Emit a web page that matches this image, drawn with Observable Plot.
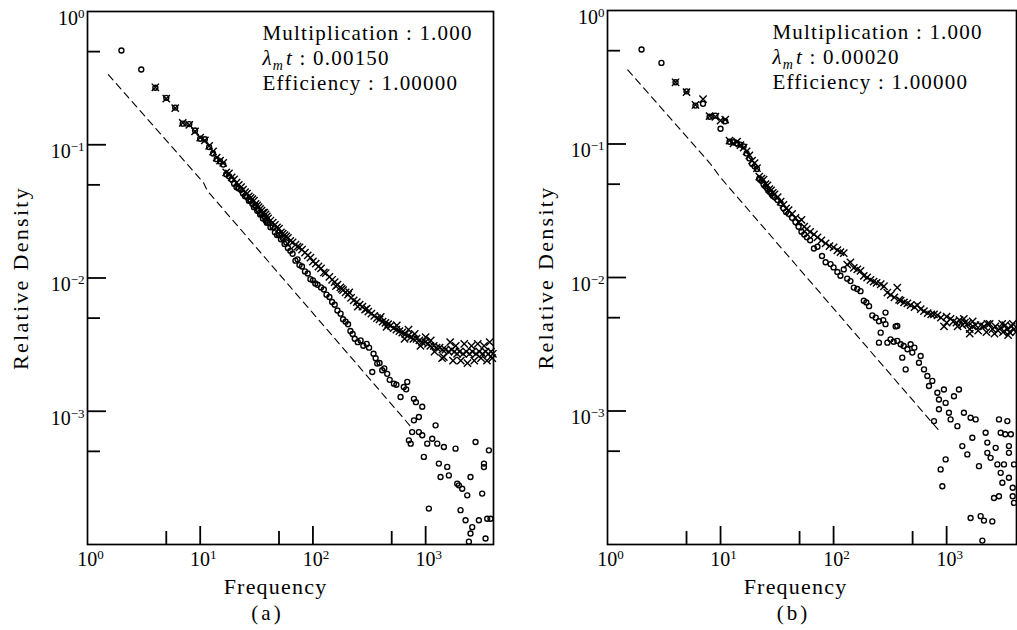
<!DOCTYPE html>
<html><head><meta charset="utf-8">
<script src="https://cdn.jsdelivr.net/npm/d3@7"></script>
<script src="https://cdn.jsdelivr.net/npm/@observablehq/plot@0.6"></script>
<style>
body{margin:0;background:#fff;}
#wrap{display:flex;width:1017px;height:630px;background:#fff;}
svg{display:block}
svg text{font-family:"Liberation Serif","Times New Roman",serif !important;}
</style></head><body><div id="wrap"></div>
<script>
// ---------- tick values ----------
const xLabelTicks = [1, 10, 100, 1000];
const xMajorTicks = [10, 100, 1000];
const xMinorTicks = [5, 50, 500];
const yLabelTicks = [1, 0.1, 0.01, 0.001];
const yMajorTicks = [0.1, 0.01, 0.001];
const yMinorTicks = [0.5, 0.05, 0.005, 0.0005];

// ---------- panel (a) ----------
const aTitle = "(a)";
const aAnnotation = ["Multiplication : 1.000", "λmt : 0.00150", "Efficiency : 1.00000"];
const aCircleFreq = [
  2,3,4,5,6,7,8,9,10,11,
  12,13,14,15,16,17,18,19,20,21,
  22,23,24,25,26,27,28,29,30,31,
  32,33,34,35,36,37,38,39,40,42,
  44,46,48,50,52,54,56,58,60,63,
  66,70,73,76,80,85,90,95,100,105,
  110,118,125,132,140,148,156,165,176,185,
  195,205,215,225,235,250,265,280,300,315,
  336,345,360,372,390,412,430,456,480,523,
  550,599,640,672,687,710,737,759,787,787,
  820,871,871,933,933,964,1033,1068,1144,1225,
  1268,1310,1356,1452,1554,1607,1842,1906,1973,2040,
  2110,2260,2340,2420,2500,2500,2590,2772,2965,3175,
  3290,3290,3400,3517,3640,3765];
const aCircleDensity = [
  .51,.367,.268,.225,.19,.144,.143,.128,.111,.110,
  .096,.086,.078,.075,.071,.060,.058,.055,.051,.048,
  .047,.046,.043,.041,.041,.038,.038,.036,.034,.035,
  .032,.032,.030,.030,.028,.029,.027,.026,.026,.024,
  .024,.022,.021,.021,.0195,.020,.018,.0185,.0168,.016,
  .0152,.0135,.0138,.0125,.0122,.0112,.0108,.0098,.0096,.0091,
  .0089,.0085,.0082,.0075,.0072,.0066,.0063,.0057,.0054,.0049,
  .0047,.0045,.0040,.0038,.0035,.0033,.0034,.0031,.0032,.0030,
  .00197,.0027,.0025,.00228,.0023,.00203,.0021,.00191,.00172,.00161,
  .00158,.00128,.00152,.00146,.00166,.000605,.000571,.000698,.00124,.000855,
  .00117,.000905,.000698,.00108,.00066,.000454,.000571,.000186,.000622,.000784,
  .000571,.000405,.000321,.000539,.000382,.00033,.000524,.000286,.000278,.000181,
  .000262,.000152,.000234,.000105,.000321,.000121,.000135,.000588,.000152,.000241,
  .000405,.000381,.000111,.000156,.000509,.000156];
const aCrossFreq = [
  4,5,6,7,8,9,10,11,12,13,
  14,15,16,17,18,19,20,21,22,23,
  24,25,26,27,28,29,30,31,32,33,
  34,35,36,37,38,39,40,42,44,46,
  48,50,52,54,56,58,60,63,66,70,
  73,76,80,85,90,95,100,106,112,118,
  125,130,140,148,156,160,165,175,180,185,
  195,205,210,218,230,245,250,260,275,290,
  300,310,330,350,370,390,400,415,440,450,
  465,490,520,550,555,585,620,650,660,700,
  705,740,780,800,830,880,900,930,990,1000,
  1050,1100,1110,1180,1200,1250,1330,1400,1410,1450,
  1500,1600,1650,1700,1750,1800,1850,1900,2000,2050,
  2150,2200,2300,2350,2450,2550,2600,2700,2800,2900,
  3000,3100,3200,3300,3400,3500,3600,3700,3800,3900,
  3950];
const aCrossDensity = [
  .27,.222,.188,.146,.141,.126,.113,.108,.098,.089,
  .080,.076,.073,.062,.061,.057,.055,.052,.050,.048,
  .046,.044,.043,.041,.040,.039,.038,.036,.035,.034,
  .033,.032,.031,.031,.030,.029,.028,.027,.026,.025,
  .024,.0235,.022,.0215,.021,.0205,.020,.019,.0185,.0178,
  .0172,.017,.0163,.0155,.0148,.0142,.0133,.0128,.0122,.0118,
  .0110,.0109,.0102,.0097,.0093,.0087,.0089,.0085,.0083,.0081,
  .0078,.0075,.0078,.0071,.0068,.0066,.0061,.0063,.0061,.0058,
  .0059,.0056,.0054,.0052,.0050,.0049,.0051,.0047,.0046,.0043,
  .0045,.0044,.0042,.0041,.0044,.0040,.0039,.0035,.0038,.0037,
  .0041,.0036,.0035,.0038,.0035,.0034,.0031,.0033,.0033,.0036,
  .0032,.0031,.0034,.0031,.0028,.0030,.0030,.0025,.0029,.00255,
  .0029,.0028,.0033,.0029,.0024,.0028,.0031,.0027,.0028,.0024,
  .0027,.0032,.0028,.0023,.0027,.0031,.0028,.0024,.0027,.0032,
  .0028,.0025,.0027,.0031,.0028,.0024,.0027,.0033,.0028,.0025,
  .0027];
const aGuideFreq = [1.53, 10.7, 11.6, 735];
const aGuideDensity = [0.336, 0.0518, 0.045, 0.00077];

// ---------- panel (b) ----------
const bTitle = "(b)";
const bAnnotation = ["Multiplication : 1.000", "λmt : 0.00020", "Efficiency : 1.00000"];
const bCircleFreq = [
  2,3,4,5,6,7,8,9,10,11,
  12,13,14,15,16,17,18,19,20,21,
  22,23,24,25,26,27,28,29,30,32,
  34,36,38,40,43,46,49,52,55,58,
  62,67,72,79,85,94,100,108,115,123,
  132,141,151,162,173,185,195,206,220,236,
  252,252,261,275,288,288,299,319,340,354,
  366,366,392,405,417,434,450,480,497,518,
  569,589,631,675,698,747,773,828,855,855,
  885,916,946,980,980,1048,1084,1161,1245,1285,
  1376,1422,1524,1629,1629,1688,1806,1932,2000,2070,
  2138,2213,2290,2290,2449,2535,2623,2714,2811,2904,
  2904,3006,3006,3112,3215,3300,3444,3557,3557,3557,
  3700,3840,3840,3945,3945];
const bCircleDensity = [
  .51,.405,.29,.248,.194,.20,.16,.163,.13,.148,
  .104,.103,.101,.099,.096,.085,.078,.071,.068,.065,
  .055,.053,.050,.048,.046,.044,.043,.041,.040,.038,
  .036,.033,.031,.030,.028,.026,.024,.022,.021,.020,
  .019,.0165,.017,.0145,.013,.0126,.0119,.011,.0103,.0115,
  .0098,.0094,.0084,.0082,.0079,.0067,.0065,.0061,.0052,.0050,
  .0047,.00325,.00386,.0048,.00546,.00447,.00325,.00344,.0033,.0043,
  .00335,.00434,.00316,.00251,.00307,.00205,.0029,.00316,.00274,.00298,
  .0023,.00258,.00205,.00183,.00154,.00168,.00084,.00137,.00122,.00103,
  .000365,.000273,.00145,.00115,.000434,.00097,.000865,.00129,.00077,.00145,
  .000546,.00097,.000473,.00089,.000158,.00063,.000865,.000386,.000163,.000107,
  .000151,.000687,.00058,.000486,.000446,.000149,.000223,.00053,.000398,.000865,
  .00023,.000687,.000344,.00029,.000398,.00067,.00084,.000546,.000486,.000316,
  .00067,.00023,.000266,.000398,.000205];
const bCrossFreq = [
  4,5,6,7,8,9,10,11,12,13,
  14,15,16,17,18,19,20,21,22,23,
  24,25,26,27,28,29,30,32,34,36,
  38,40,43,46,49,52,55,58,62,67,
  72,78,85,92,100,108,115,123,132,141,
  151,162,173,185,198,212,226,240,261,279,
  299,320,345,366,380,392,420,450,480,520,
  551,590,630,680,730,773,830,890,948,1000,
  1000,1084,1150,1220,1250,1300,1380,1420,1450,1524,
  1600,1600,1700,1700,1800,1900,2000,2138,2250,2300,
  2400,2550,2650,2700,2850,3006,3100,3150,3300,3450,
  3500,3600,3750,3850,3945,4100];
const bCrossDensity = [
  .29,.245,.196,.217,.162,.16,.15,.152,.106,.101,
  .104,.098,.094,.088,.082,.075,.072,.066,.057,.055,
  .054,.050,.049,.046,.045,.043,.042,.040,.037,.035,
  .033,.032,.030,.028,.026,.027,.024,.023,.022,.021,
  .020,.019,.018,.0172,.0168,.016,.0155,.0152,.0125,.013,
  .0118,.0115,.0112,.0103,.0100,.0096,.0093,.0091,.0089,.0086,
  .0077,.0074,.0071,.0084,.0068,.0067,.0065,.0064,.0062,.0060,
  .0062,.0058,.0056,.0054,.0053,.0053,.0052,.0050,.0043,.0051,
  .0046,.0049,.0047,.0046,.0043,.0048,.0044,.0049,.0046,.0045,
  .0038,.0041,.0043,.0047,.0044,.0040,.0044,.0043,.0039,.0045,
  .0045,.0041,.0038,.0043,.0040,.0042,.0045,.0039,.0044,.0041,
  .0037,.0039,.0043,.0045,.0041,.0039];
const bGuideFreq = [1.51, 8.16, 10, 885];
const bGuideDensity = [0.359, 0.0708, 0.056, 0.00069];

const xLabel = "Frequency";
const yLabel = "Relative Density";

// ---------- drawing ----------
const SERIF = "Liberation Serif, Times New Roman, serif";
const zip = (xs, ys) => xs.map((x, i) => ({x, y: ys[i]}));
const expFormat = d => "10^" + Math.round(Math.log10(d));

function panel(cfg) {
  const frameW = cfg.width - cfg.ml - cfg.mr;
  const frameH = cfg.height - cfg.mt - cfg.mb;
  const circles = zip(cfg.circleFreq, cfg.circleDensity);
  const crosses = zip(cfg.crossFreq, cfg.crossDensity);
  const guide = zip(cfg.guideFreq, cfg.guideDensity);
  const svg = Plot.plot({
    width: cfg.width, height: cfg.height,
    marginLeft: cfg.ml, marginRight: cfg.mr, marginTop: cfg.mt, marginBottom: cfg.mb,
    x: {type: "log", domain: cfg.xDomain},
    y: {type: "log", domain: [1e-4, 1]},
    style: {fontFamily: SERIF, background: "white", color: "black", overflow: "visible"},
    marks: [
      Plot.frame({stroke: "black", strokeWidth: 1.7}),
      Plot.tickX(xMajorTicks, {x: d => d, insetTop: frameH - 18, stroke: "black", strokeWidth: 1.8}),
      Plot.tickX(xMinorTicks, {x: d => d, insetTop: frameH - 13, stroke: "black", strokeWidth: 1.8}),
      Plot.tickY(yMajorTicks, {y: d => d, insetRight: frameW - 19, stroke: "black", strokeWidth: 1.8}),
      Plot.tickY(yMinorTicks, {y: d => d, insetRight: frameW - 13, stroke: "black", strokeWidth: 1.8}),
      Plot.axisX(xLabelTicks, {tickSize: 0, tickPadding: 7, tickFormat: expFormat, fontSize: 20, fontFamily: SERIF, label: null, dx: 3}),
      Plot.axisY(yLabelTicks, {tickSize: 0, tickPadding: 3, tickFormat: expFormat, fontSize: 20, fontFamily: SERIF, label: null, dy: 7}),
      Plot.line(guide, {x: "x", y: "y", stroke: "black", strokeWidth: 1.1, strokeDasharray: "7,5"}),
      Plot.dot(circles, {x: "x", y: "y", r: 2.5, stroke: "black", strokeWidth: 1.35, fill: "none"}),
      Plot.dot(crosses, {x: "x", y: "y", symbol: "times", r: 3.4, stroke: "black", strokeWidth: 1.4}),
      Plot.text([xLabel], {text: d => d, frameAnchor: "bottom", dx: cfg.freqDx, dy: 49, fontSize: 22, fontFamily: SERIF, fill: "black"}),
      Plot.text([cfg.title], {text: d => d, frameAnchor: "bottom", dx: cfg.titleDx, dy: 75, fontSize: 21, fontFamily: SERIF, fill: "black"}),
      Plot.text([yLabel], {text: d => d, frameAnchor: "left", textAnchor: "middle", rotate: -90, dx: cfg.yLabelDx, lineAnchor: "middle", fontSize: 22, fontFamily: SERIF, fill: "black"}),
      Plot.text([cfg.annotation.join("\n")], {text: d => d, frameAnchor: "top-left", textAnchor: "start", lineAnchor: "top", lineHeight: 1.19, dx: cfg.annDx, dy: 11, fontSize: 21, fontFamily: SERIF, fill: "black"})
    ]
  });
  svg.setAttribute("font-family", SERIF);
  // superscripts on power-of-ten tick labels
  svg.querySelectorAll("text").forEach(t => {
    const m = /^10\^(-?\d+)$/.exec(t.textContent);
    if (m) t.innerHTML = `10<tspan dy="-7" font-size="13">${m[1].replace("-", "−")}</tspan>`;
    if (t.textContent === xLabel) t.style.letterSpacing = "1.2px";
    if (t.textContent === yLabel) t.style.letterSpacing = "2.3px";
    if (t.textContent === cfg.title) t.style.letterSpacing = "3px";
  });
  svg.querySelectorAll("tspan").forEach(s => {
    if (s.textContent.startsWith("λm")) {
      const rest = s.textContent.slice(3);
      s.innerHTML = `<tspan font-style="italic">λ</tspan><tspan font-style="italic" font-size="14" dy="5">m</tspan><tspan font-style="italic" dy="-5" dx="2">t</tspan>${rest}`;
    }
  });
  svg.querySelectorAll("text").forEach(t => {
    if (t.textContent.startsWith("Multiplication")) t.style.letterSpacing = "1.2px";
  });
  return svg;
}

const wrap = document.getElementById("wrap");
wrap.append(panel({
  width: 508, height: 630, ml: 87, mr: 15, mt: 11, mb: 86, xDomain: [1, 4000],
  circleFreq: aCircleFreq, circleDensity: aCircleDensity,
  crossFreq: aCrossFreq, crossDensity: aCrossDensity,
  guideFreq: aGuideFreq, guideDensity: aGuideDensity,
  title: aTitle, annotation: aAnnotation,
  freqDx: -15, titleDx: -23, yLabelDx: -67, annDx: 175
}));
wrap.append(panel({
  width: 509, height: 630, ml: 99, mr: 1, mt: 10, mb: 86, xDomain: [1, 4150],
  circleFreq: bCircleFreq, circleDensity: bCircleDensity,
  crossFreq: bCrossFreq, crossDensity: bCrossDensity,
  guideFreq: bGuideFreq, guideDensity: bGuideDensity,
  title: bTitle, annotation: bAnnotation,
  freqDx: -16.5, titleDx: -18.5, yLabelDx: -62, annDx: 165
}));
</script></body></html>
